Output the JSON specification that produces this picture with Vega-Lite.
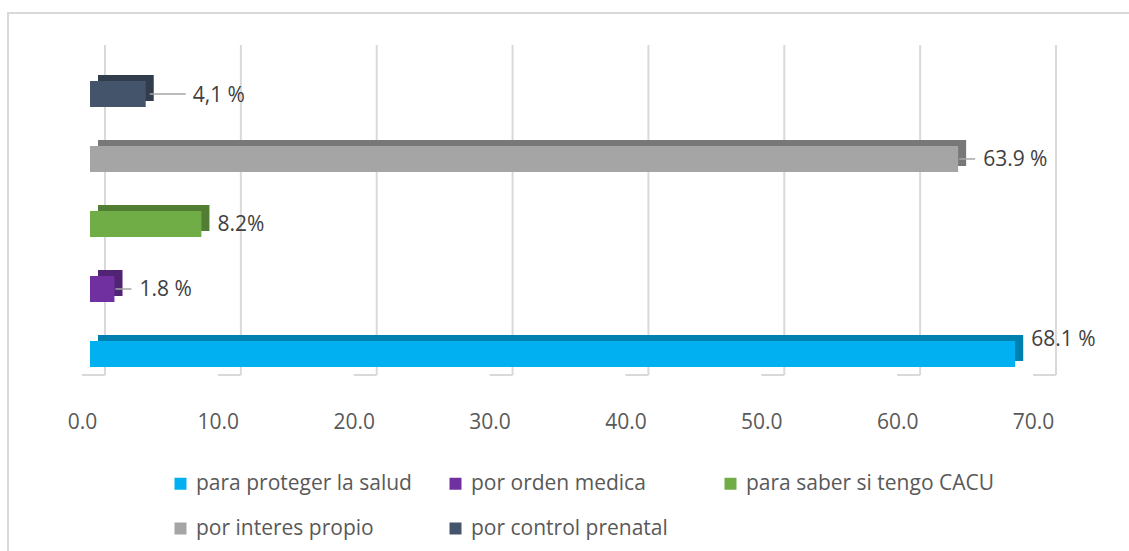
{
  "$schema": "https://vega.github.io/schema/vega-lite/v6.json",
  "width": 951,
  "height": 330,
  "autosize": "none",
  "padding": {"left": 90, "top": 45, "right": 88, "bottom": 176},
  "background": "white",
  "config": {"view": {"stroke": null}, "font": "Open Sans"},
  "datasets": {
    "bars": [
      {"motivo": "para proteger la salud", "pct": 68.1, "label": "68.1 %"},
      {"motivo": "por orden medica", "pct": 1.8, "label": "1.8 %"},
      {"motivo": "para saber si tengo CACU", "pct": 8.2, "label": "8.2%"},
      {"motivo": "por interes propio", "pct": 63.9, "label": "63.9 %"},
      {"motivo": "por control prenatal", "pct": 4.1, "label": "4,1 %"}
    ],
    "ticks": [{"v": 0}, {"v": 10}, {"v": 20}, {"v": 30}, {"v": 40}, {"v": 50}, {"v": 60}, {"v": 70}]
  },
  "layer": [
    {
      "data": {"name": "ticks"},
      "mark": {"type": "rule", "color": "#d9d9d9", "strokeWidth": 2, "xOffset": 15},
      "encoding": {
        "x": {"field": "v", "type": "quantitative", "scale": {"domain": [0, 70], "nice": false, "zero": true},
          "axis": {"values": [0, 10, 20, 30, 40, 50, 60, 70], "format": ".1f", "domain": false, "ticks": false, "grid": false,
            "labelPadding": 36, "labelOffset": -8, "labelFontSize": 21, "labelColor": "#595959", "title": null, "labelFlush": false}}
      }
    },
    {
      "data": {"name": "ticks"},
      "mark": {"type": "rule", "color": "#d9d9d9", "strokeWidth": 2, "xOffset": 15, "x2Offset": -8, "y": {"expr": "height"}, "y2": {"expr": "height + 18"}},
      "encoding": {
        "x": {"field": "v", "type": "quantitative"},
        "x2": {"field": "v"}
      }
    },
    {
      "data": {"name": "ticks"},
      "transform": [{"filter": "datum.v == 0"}],
      "mark": {"type": "rule", "color": "#d9d9d9", "strokeWidth": 2, "xOffset": -82, "y": {"expr": "-32"}, "y2": {"expr": "height + 220"}},
      "encoding": {"x": {"field": "v", "type": "quantitative"}}
    },
    {
      "data": {"name": "ticks"},
      "transform": [{"filter": "datum.v == 0"}],
      "mark": {"type": "rule", "color": "#d9d9d9", "strokeWidth": 2, "xOffset": -83, "x2Offset": 220, "y": {"expr": "-32"}, "y2": {"expr": "-32"}},
      "encoding": {"x": {"field": "v", "type": "quantitative"}, "x2": {"datum": 70}}
    },
    {
      "data": {"name": "bars"},
      "mark": {"type": "bar", "xOffset": 8, "x2Offset": 8, "yOffset": -6, "y2Offset": -6},
      "encoding": {
        "y": {"field": "motivo", "type": "nominal",
          "sort": ["por control prenatal", "por interes propio", "para saber si tengo CACU", "por orden medica", "para proteger la salud"],
          "scale": {"paddingInner": 0.6, "paddingOuter": 0.338, "align": 0.818}, "axis": null},
        "x": {"field": "pct", "type": "quantitative"},
        "color": {"field": "motivo", "type": "nominal", "sort": null,
          "scale": {"domain": ["para proteger la salud", "por orden medica", "para saber si tengo CACU", "por interes propio", "por control prenatal"],
            "range": ["#00b0f0", "#7030a0", "#70ad47", "#a5a5a5", "#44546a"]},
          "legend": {"title": null, "orient": "none", "legendX": 80, "legendY": 428, "direction": "horizontal", "columns": 3,
            "gridAlign": "all", "columnPadding": -5, "rowPadding": 23, "symbolType": "square", "symbolSize": 144, "symbolStrokeWidth": 0,
            "labelFontSize": 21, "labelColor": "#595959", "labelOffset": 5, "labelLimit": 400}}
      }
    },
    {
      "data": {"name": "bars"},
      "mark": {"type": "bar", "color": "black", "opacity": 0.27, "xOffset": 8, "x2Offset": 8, "yOffset": -6, "y2Offset": -6},
      "encoding": {
        "y": {"field": "motivo", "type": "nominal",
          "sort": ["por control prenatal", "por interes propio", "para saber si tengo CACU", "por orden medica", "para proteger la salud"]},
        "x": {"field": "pct", "type": "quantitative"}
      }
    },
    {
      "data": {"name": "bars"},
      "mark": {"type": "bar"},
      "encoding": {
        "y": {"field": "motivo", "type": "nominal",
          "sort": ["por control prenatal", "por interes propio", "para saber si tengo CACU", "por orden medica", "para proteger la salud"]},
        "x": {"field": "pct", "type": "quantitative"},
        "color": {"field": "motivo", "type": "nominal", "sort": null}
      }
    },
    {
      "data": {"name": "bars"},
      "transform": [{"filter": "datum.label == '4,1 %'"}],
      "mark": {"type": "rule", "color": "#a6a6a6", "strokeWidth": 1.5, "xOffset": 4, "x2Offset": 40},
      "encoding": {
        "y": {"field": "motivo", "type": "nominal", "sort": ["por control prenatal", "por interes propio", "para saber si tengo CACU", "por orden medica", "para proteger la salud"]},
        "x": {"field": "pct", "type": "quantitative"},
        "x2": {"field": "pct"}
      }
    },
    {
      "data": {"name": "bars"},
      "transform": [{"filter": "datum.label == '63.9 %' || datum.label == '1.8 %'"}],
      "mark": {"type": "rule", "color": "#a6a6a6", "strokeWidth": 1.5, "xOffset": 1, "x2Offset": 17},
      "encoding": {
        "y": {"field": "motivo", "type": "nominal", "sort": ["por control prenatal", "por interes propio", "para saber si tengo CACU", "por orden medica", "para proteger la salud"]},
        "x": {"field": "pct", "type": "quantitative"},
        "x2": {"field": "pct"}
      }
    },
    {
      "data": {"name": "bars"},
      "transform": [{"filter": "datum.label == '4,1 %'"}],
      "mark": {"type": "text", "align": "left", "baseline": "middle", "dx": 47, "dy": 2, "fontSize": 21, "color": "#404040"},
      "encoding": {
        "y": {"field": "motivo", "type": "nominal", "sort": ["por control prenatal", "por interes propio", "para saber si tengo CACU", "por orden medica", "para proteger la salud"]},
        "x": {"field": "pct", "type": "quantitative"},
        "text": {"field": "label"}
      }
    },
    {
      "data": {"name": "bars"},
      "transform": [{"filter": "datum.label == '63.9 %' || datum.label == '1.8 %'"}],
      "mark": {"type": "text", "align": "left", "baseline": "middle", "dx": 25, "dy": 1, "fontSize": 21, "color": "#404040"},
      "encoding": {
        "y": {"field": "motivo", "type": "nominal", "sort": ["por control prenatal", "por interes propio", "para saber si tengo CACU", "por orden medica", "para proteger la salud"]},
        "x": {"field": "pct", "type": "quantitative"},
        "text": {"field": "label"}
      }
    },
    {
      "data": {"name": "bars"},
      "transform": [{"filter": "datum.label == '8.2%'"}],
      "mark": {"type": "text", "align": "left", "baseline": "middle", "dx": 16, "dy": 1, "fontSize": 21, "color": "#404040"},
      "encoding": {
        "y": {"field": "motivo", "type": "nominal", "sort": ["por control prenatal", "por interes propio", "para saber si tengo CACU", "por orden medica", "para proteger la salud"]},
        "x": {"field": "pct", "type": "quantitative"},
        "text": {"field": "label"}
      }
    },
    {
      "data": {"name": "bars"},
      "transform": [{"filter": "datum.label == '68.1 %'"}],
      "mark": {"type": "text", "align": "left", "baseline": "middle", "dx": 16, "dy": -14, "fontSize": 21, "color": "#404040"},
      "encoding": {
        "y": {"field": "motivo", "type": "nominal", "sort": ["por control prenatal", "por interes propio", "para saber si tengo CACU", "por orden medica", "para proteger la salud"]},
        "x": {"field": "pct", "type": "quantitative"},
        "text": {"field": "label"}
      }
    }
  ]
}
